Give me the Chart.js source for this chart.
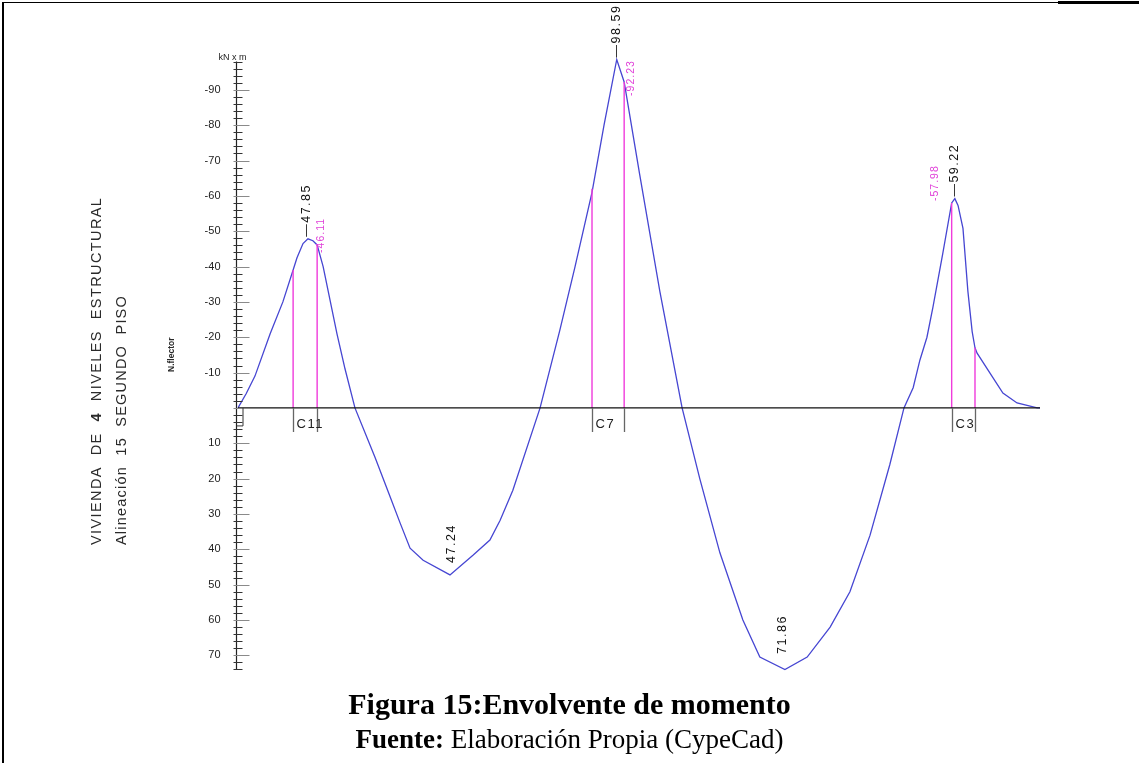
<!DOCTYPE html>
<html>
<head>
<meta charset="utf-8">
<script src="https://cdn.jsdelivr.net/npm/chart.js@4.4.1/dist/chart.umd.min.js"></script>
<style>
    body { margin: 0; background: #fff; }
    #wrap { position: relative; width: 1139px; height: 763px; overflow: hidden; }
    #momentChart { position: absolute; left: 0; top: 0; }
    .frame { position: absolute; background: #000; }
    .caption {
        position: absolute; left: 0; width: 1139px; text-align: center;
        font-family: "Liberation Serif", "Times New Roman", serif;
        font-size: 27px; line-height: 28px; color: #000;
    }
</style>
</head>
<body>
<div id="wrap">
    <canvas id="momentChart" width="1139" height="763"></canvas>
    <div class="frame" style="left:2px; top:2px; width:2px; height:761px;"></div>
    <div class="frame" style="left:2px; top:2px; width:1056px; height:1px;"></div>
    <div class="frame" style="left:1058px; top:1px; width:81px; height:3px;"></div>
    <div class="caption" style="top:689px; font-size:30px; line-height:30px; font-weight:bold;">Figura 15:Envolvente de momento</div>
    <div class="caption" style="top:725px;"><b>Fuente:</b> Elaboración Propia (CypeCad)</div>
</div>

<script>
// Beam position (m) and bending moment envelope (kN·m), negative = hogging (drawn up)
const beamX = [0, 0.23, 0.48, 0.91, 1.27, 1.56, 1.67, 1.84, 1.98, 2.12,
    2.24, 2.41, 2.80, 3.03, 3.31, 3.88, 4.30, 4.59, 4.87, 5.24,
    6.00, 6.65, 7.13, 7.42, 7.78, 8.55, 9.11, 9.54, 10.02, 10.36,
    10.72, 10.93, 11.37, 11.94, 12.57, 13.07, 13.64, 14.29, 14.77, 15.48,
    16.11, 16.76, 17.32, 17.89, 18.45, 18.85, 19.11, 19.30, 19.50, 19.67,
    19.95, 20.20, 20.29, 20.38, 20.52, 20.66, 20.78, 20.86, 20.92, 21.28,
    21.65, 22.05, 22.62, 22.70];
const momentY = [0, -4, -9, -21, -30, -39, -42.5, -46.5, -47.85, -47.3,
    -46.11, -40, -21, -11, 0, 14, 25, 32.6, 39.7, 43.1,
    47.24, 41.7, 37.4, 31.8, 23.3, 0, -22, -40, -61, -80,
    -98.59, -92.23, -66, -33, 0, 20, 41, 60, 70.5, 74,
    70.5, 62, 52, 36, 16, 0, -5.7, -13.5, -20, -28.5,
    -43.8, -57.98, -59.22, -57.3, -50.8, -32.9, -21.6, -17, -15.5, -9.9,
    -4.2, -1.4, 0, 0];

// Columns (faces) and moment at each face
const columnNames = ["C11", "C7", "C3"];
const columnLeft = [1.56, 10.02, 20.20];
const columnRight = [2.24, 10.93, 20.86];
const faceMomentLeft = [-39, -62, -57.98];
const faceMomentRight = [-46.11, -92.23, -17];

// Peak / trough labels (black) and face labels (magenta)
const peakX = [1.98, 10.72, 20.29, 6.00, 15.48];
const peakY = [-47.85, -98.59, -59.22, 47.24, 71.86];
const peakText = ["\u201447.85", "\u201498.59", "\u201459.22", "47.24", "71.86"];
const faceX = [2.24, 10.93, 20.20];
const faceY = [-46.11, -92.23, -57.98];
const faceText = ["-46.11", "-92.23", "-57.98"];

// Y axis tick labels
const yTickValues = [-90, -80, -70, -60, -50, -40, -30, -20, -10, 10, 20, 30, 40, 50, 60, 70];
const beamLength = 22.70;

// pixel offsets for the rotated labels
const peakOffsets = [[-1, -2], [0, -2], [0, -2], [2, -12], [-2, -8]];
const faceOffsets = [[4, 8], [7, 14], [-17, -2]];

function buildFaceLines() {
    const pts = [];
    for (let i = 0; i < columnNames.length; i++) {
        pts.push({ x: columnLeft[i], y: 0 }, { x: columnLeft[i], y: faceMomentLeft[i] }, { x: columnLeft[i], y: null });
        pts.push({ x: columnRight[i], y: 0 }, { x: columnRight[i], y: faceMomentRight[i] }, { x: columnRight[i], y: null });
    }
    return pts;
}

function rotatedText(ctx, text, x, y, font, color, spacing) {
    ctx.save();
    ctx.translate(x, y);
    ctx.rotate(-Math.PI / 2);
    ctx.font = font;
    ctx.fillStyle = color;
    ctx.letterSpacing = spacing || "0px";
    ctx.textAlign = "left";
    ctx.textBaseline = "middle";
    ctx.fillText(text, 0, 0);
    ctx.restore();
}

// Draws the CAD style axis, column boxes and all texts
const cadPlugin = {
    id: "cadDecor",
    afterDatasetsDraw(chart) {
        const ctx = chart.ctx;
        const xs = chart.scales.x;
        const ys = chart.scales.y;
        const axX = xs.left - 1.5;
        const y0 = ys.getPixelForValue(0);

        ctx.save();
        // y axis line + ticks
        ctx.strokeStyle = "#222";
        ctx.lineWidth = 1.2;
        ctx.beginPath();
        ctx.moveTo(axX, ys.getPixelForValue(-98));
        ctx.lineTo(axX, ys.getPixelForValue(74));
        ctx.stroke();
        for (let v = -98; v <= 74; v += 2) {
            const py = Math.round(ys.getPixelForValue(v)) + 0.5;
            const major = v % 10 === 0;
            ctx.strokeStyle = major ? "#8a8a8a" : "#333";
            ctx.lineWidth = 1;
            ctx.beginPath();
            ctx.moveTo(axX - 3, py);
            ctx.lineTo(axX + (major ? 13 : 6), py);
            ctx.stroke();
        }
        // small bracket at the origin
        ctx.strokeStyle = "#333";
        ctx.beginPath();
        ctx.moveTo(axX + 6.5, y0);
        ctx.lineTo(axX + 6.5, y0 + 18);
        ctx.lineTo(axX, y0 + 18);
        ctx.stroke();

        ctx.font = "11px Arial, 'Liberation Sans'";
        ctx.fillStyle = "#222";
        ctx.textAlign = "right";
        ctx.textBaseline = "middle";
        yTickValues.forEach(v => ctx.fillText(String(v), axX - 16, ys.getPixelForValue(v)));
        ctx.font = "9px Arial, 'Liberation Sans'";
        ctx.textAlign = "center";
        ctx.fillText("kN x m", axX - 4, ys.getPixelForValue(-98) - 4);

        // column boxes under the zero line
        for (let i = 0; i < columnNames.length; i++) {
            const xl = Math.round(xs.getPixelForValue(columnLeft[i])) + 0.5;
            const xr = Math.round(xs.getPixelForValue(columnRight[i])) + 0.5;
            ctx.strokeStyle = "#666";
            ctx.lineWidth = 1.3;
            ctx.beginPath();
            ctx.moveTo(xl, y0); ctx.lineTo(xl, y0 + 24);
            ctx.moveTo(xr, y0); ctx.lineTo(xr, y0 + 24);
            ctx.stroke();
            ctx.font = "13px Arial, 'Liberation Sans'";
            ctx.letterSpacing = "1.5px";
            ctx.fillStyle = "#222";
            ctx.textAlign = "left";
            ctx.fillText(columnNames[i], xl + 3, y0 + 17);
            ctx.letterSpacing = "0px";
        }
        ctx.restore();

        // peak labels
        peakX.forEach((xv, i) => {
            rotatedText(ctx, peakText[i], xs.getPixelForValue(xv) + peakOffsets[i][0],
                ys.getPixelForValue(peakY[i]) + peakOffsets[i][1], "12.5px Arial, 'Liberation Sans'", "#111", "1.5px");
        });
        faceX.forEach((xv, i) => {
            rotatedText(ctx, faceText[i], xs.getPixelForValue(xv) + faceOffsets[i][0],
                ys.getPixelForValue(faceY[i]) + faceOffsets[i][1], "10.5px Arial, 'Liberation Sans'", "#e040d8", "1px");
        });

        // left side titles
        ctx.save();
        ctx.translate(97, 545);
        ctx.rotate(-Math.PI / 2);
        ctx.textBaseline = "middle";
        ctx.textAlign = "left";
        ctx.fillStyle = "#2a2a2a";
        ctx.letterSpacing = "1.4px";
        let cx = 0;
        [["VIVIENDA  DE  ", "normal"], ["4", "bold"], ["  NIVELES  ESTRUCTURAL", "normal"]].forEach(p => {
            ctx.font = p[1] + " 14.5px Arial, 'Liberation Sans'";
            ctx.fillText(p[0], cx, 0);
            cx += ctx.measureText(p[0]).width;
        });
        ctx.font = "14.5px Arial, 'Liberation Sans'";
        ctx.letterSpacing = "1.2px";
        ctx.fillText("Alineación  15  SEGUNDO  PISO", 0, 25);
        ctx.letterSpacing = "0px";
        ctx.font = "bold 8.5px Arial, 'Liberation Sans'";
        ctx.fillText("N.flector", 173, 75);
        ctx.restore();
    }
};

const chartCtx = document.getElementById("momentChart").getContext("2d");
new Chart(chartCtx, {
    type: "line",
    data: {
        datasets: [
            {
                // zero line
                data: [{ x: 0, y: 0 }, { x: beamLength, y: 0 }],
                borderColor: "#111",
                borderWidth: 1.3,
                pointRadius: 0
            },
            {
                // face moments at columns
                data: buildFaceLines(),
                borderColor: "#f03cdc",
                borderWidth: 1.4,
                pointRadius: 0,
                spanGaps: false
            },
            {
                label: "Envolvente",
                data: beamX.map((x, i) => ({ x: x, y: momentY[i] })),
                borderColor: "#4646d2",
                borderWidth: 1.3,
                pointRadius: 0,
                tension: 0
            }
        ]
    },
    options: {
        responsive: false,
        animation: false,
        devicePixelRatio: 1,
        layout: { padding: { left: 238, right: 99, top: 58, bottom: 90 } },
        scales: {
            x: { type: "linear", min: 0, max: beamLength, display: false },
            y: { type: "linear", min: -99, max: 75, reverse: true, display: false }
        },
        datasets: { line: { clip: false } },
        plugins: { legend: { display: false }, tooltip: { enabled: false } }
    },
    plugins: [cadPlugin]
});
</script>
</body>
</html>
